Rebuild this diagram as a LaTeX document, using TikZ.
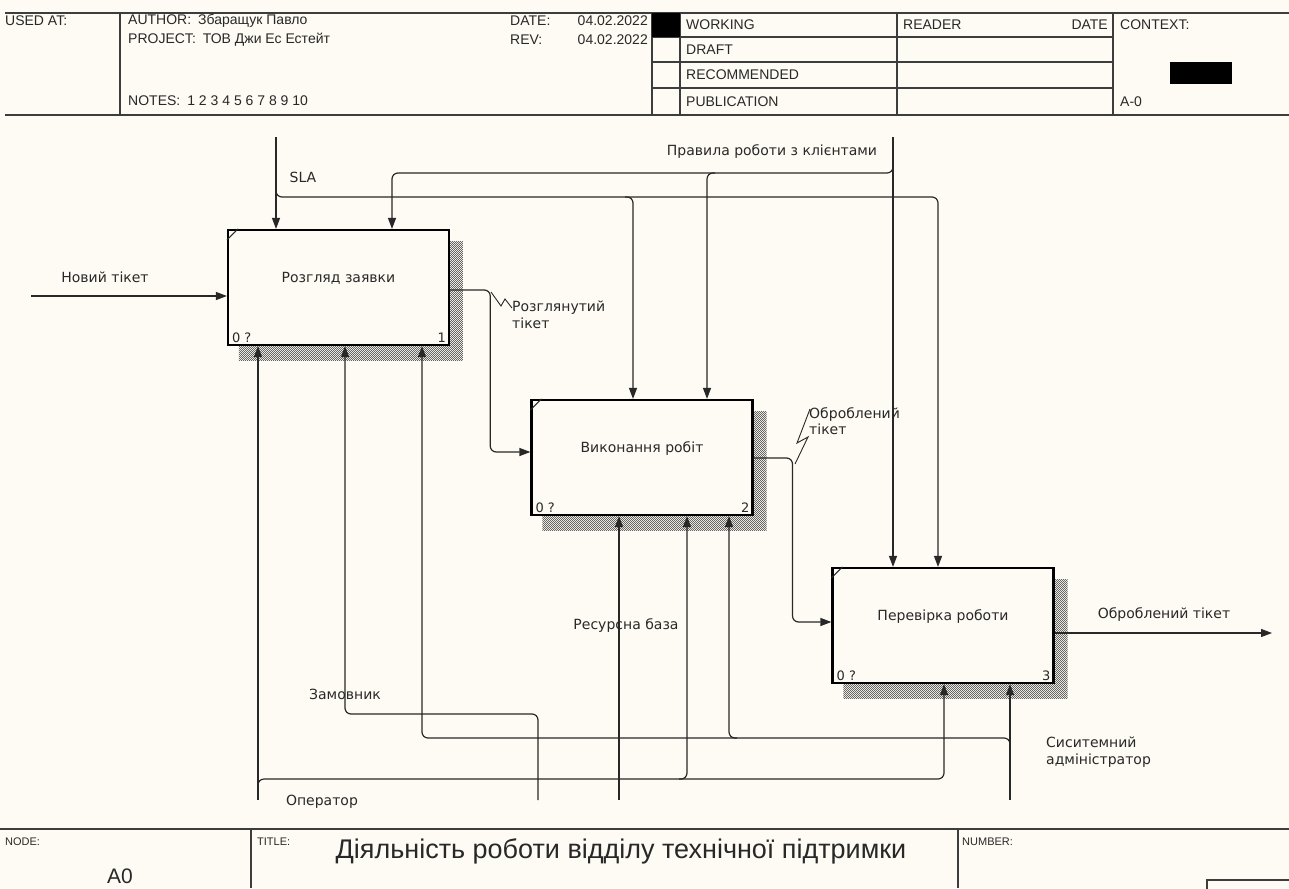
\documentclass[tikz,border=0pt]{standalone}
\usepackage{fontspec}
\setmainfont{Liberation Sans}
\newfontfamily\idef{DejaVu Sans}
\usetikzlibrary{arrows.meta}
\usetikzlibrary{patterns}
\usetikzlibrary{calc}
\usetikzlibrary{backgrounds}

\definecolor{paper}{RGB}{253,251,243}
\definecolor{ink}{RGB}{40,40,40}

\pgfdeclarepatternformonly{finecheck}{\pgfpointorigin}{\pgfqpoint{2.4pt}{2.4pt}}{\pgfqpoint{2.4pt}{2.4pt}}{%
  \pgfpathrectangle{\pgfpointorigin}{\pgfqpoint{1.2pt}{1.2pt}}%
  \pgfpathrectangle{\pgfqpoint{1.2pt}{1.2pt}}{\pgfqpoint{1.2pt}{1.2pt}}%
  \pgfusepath{fill}}

\tikzset{
  func/.style={draw=black, line width=2.2pt, fill=paper, minimum width=221pt, minimum height=115pt, inner sep=0pt},
  arr/.style={draw=ink, line width=1.2pt, rounded corners=6pt, -{Triangle[length=11pt,width=8pt]}},
  squig/.style={draw=ink, line width=0.9pt},
  lbl/.style={font=\idef\fontsize{14}{16.5}\selectfont, text=ink, inner sep=0pt, align=left},
  num/.style={font=\idef\fontsize{13}{15}\selectfont, text=ink, inner sep=0pt},
  hdr/.style={font=\fontsize{14}{16}\selectfont, text=ink, inner sep=0pt, anchor=west},
  tiny/.style={font=\fontsize{11}{13}\selectfont, text=ink, inner sep=0pt, anchor=west},
  frameline/.style={draw=ink!90, line width=1.3pt},
  hatch/.style={pattern=finecheck, pattern color=black!60},
}

\begin{document}
\begin{tikzpicture}[x=1pt,y=-1pt]
\useasboundingbox (0,0) rectangle (1289,888);

% activity boxes
\node[func] (b1) at (338.5,287.5) {};
\node[func] (b2) at (642,457.5) {};
\node[func] (b3) at (943,625.5) {};
\node[lbl] (t1) at ([yshift=9pt]b1.center) {Розгляд заявки};
\node[lbl] (t2) at ([yshift=9pt]b2.center) {Виконання робіт};
\node[lbl] (t3) at ([yshift=9pt]b3.center) {Перевірка роботи};
\foreach \b/\n in {b1/1, b2/2, b3/3} {
  \node[num, anchor=south west] (\b z) at ([shift={(5pt,3pt)}]\b.south west) {0 ?};
  \node[num, anchor=south east] (\b n) at ([shift={(-4pt,3pt)}]\b.south east) {\n};
  \draw[ink, line width=1pt] ([yshift=-11pt]\b.north west) -- ([xshift=11pt]\b.north west);
}
\begin{scope}[on background layer]
  \fill[paper] (0,0) rectangle (1289,888);
  \foreach \b in {b1,b2,b3}
    \fill[hatch] ([shift={(12pt,-13pt)}]\b.north west) rectangle ([shift={(13pt,-14pt)}]\b.south east);
\end{scope}

% inputs and outputs
\coordinate (newIn) at (31,296);
\draw[arr] (newIn) -- (newIn -| b1.west);
\draw[arr] ([yshift=-2.5pt]b1.east) -| ($(b1.east)!.5!(b2.west)$) |- ([yshift=5.5pt]b2.west);
\draw[arr] ([yshift=-0.5pt]b2.east) -| ($(b2.east)!.5!(b3.west)$) |- ([yshift=3.5pt]b3.west);
\coordinate (outEnd) at (1272,633);
\draw[arr] (b3.east |- outEnd) -- (outEnd);

% controls
\coordinate (slaIn) at (276,137);
\draw[arr] (slaIn) -- (slaIn |- b1.north);
\coordinate (c3b) at (938,197);
\draw[arr] (276,189) |- (c3b) -- (c3b |- b3.north);
\coordinate (c2a) at (633,197);
\draw[arr] ([xshift=-8pt]c2a) -- (c2a) -- (c2a |- b2.north);
\coordinate (rulesIn) at (893,137);
\draw[arr] (rulesIn) -- (rulesIn |- b3.north);
\coordinate (c1b) at (392,173);
\draw[arr] (893,165) |- (c1b) -- (c1b |- b1.north);
\coordinate (c2b) at (707,173);
\draw[arr] ([xshift=8pt]c2b) -- (c2b) -- (c2b |- b2.north);

% mechanisms
\coordinate (operIn) at (258,800);
\draw[arr] (operIn) -- (operIn |- b1.south);
\coordinate (m3a) at (944,779);
\draw[arr] (258,787) |- (m3a) -- (m3a |- b3.south);
\coordinate (m2a) at (687,779);
\draw[arr] ([xshift=-8pt]m2a) -- (m2a) -- (m2a |- b2.south);
\coordinate (custIn) at (538,800);
\coordinate (m1b) at (345,714);
\draw[arr] (custIn) |- (m1b) -- (m1b |- b1.south);
\coordinate (resIn) at (619,800);
\draw[arr] (resIn) -- (resIn |- b2.south);
\coordinate (adminIn) at (1010,800);
\draw[arr] (adminIn) -- (adminIn |- b3.south);
\coordinate (m1c) at (422,738);
\draw[arr] (1010,746) |- (m1c) -- (m1c |- b1.south);
\coordinate (m2c) at (729,738);
\draw[arr] ([xshift=8pt]m2c) -- (m2c) -- (m2c |- b2.south);

% arrow labels
\draw[squig] (491,292) -- (501,306) -- (505,299) -- (512,308);
\draw[squig] (795,464) -- (808,437) -- (797,443) -- (810,409);
\node[lbl] (lNew) at (105,277) {Новий тікет};
\node[lbl] (lSla) at (303,177) {SLA};
\node[lbl] (lRules) at (772,152) {Правила роботи з клієнтами};
\node[lbl, anchor=north west] (lRev) at (512,301) {Розглянутий\\тікет};
\node[lbl, anchor=north west] (lDone) at (809,407) {Оброблений\\тікет};
\node[lbl] (lOut) at (1164,615) {Оброблений тікет};
\node[lbl] (lRes) at (626,626) {Ресурсна база};
\node[lbl] (lCust) at (345,694) {Замовник};
\node[lbl] (lOper) at (322,802) {Оператор};
\node[lbl, anchor=north west] (lAdmin) at (1046,737) {Сиситемний\\адміністратор};

% header frame
\draw[frameline] (5,13) -- (1289,13) (5,115) -- (1289,115);
\foreach \x in {120,652,680,897,1113}
  \draw[frameline] (\x,13) -- (\x,115);
\foreach \y in {37,62,88}
  \draw[frameline] (652,\y) -- (1113,\y);
\fill[black] (652,13) rectangle (680,37);
\fill[black] (1170,62) rectangle (1232,84);
\node[hdr] (usedAt) at (5,21) {USED AT:};
\node[hdr] (author) at (128,21) {AUTHOR:\enspace Збаращук Павло};
\node[hdr] (project) at (128,40) {PROJECT:\enspace ТОВ Джи Ес Естейт};
\node[hdr] (notes) at (128,101) {NOTES:\enspace 1 2 3 4 5 6 7 8 9 10};
\node[hdr] (date) at (510,21) {DATE:};
\node[hdr, anchor=east] (dateV) at (648,21) {04.02.2022};
\node[hdr] (rev) at (510,40) {REV:};
\node[hdr, anchor=east] (revV) at (648,40) {04.02.2022};
\node[hdr] (working) at (686,25) {WORKING};
\node[hdr] (draft) at (686,50) {DRAFT};
\node[hdr] (recomm) at (686,75) {RECOMMENDED};
\node[hdr] (public) at (686,102) {PUBLICATION};
\node[hdr] (reader) at (903,25) {READER};
\node[hdr, anchor=east] (rdate) at (1108,25) {DATE};
\node[hdr] (context) at (1120,25) {CONTEXT:};
\node[hdr] (ctxNode) at (1120,102) {A-0};

% footer frame
\draw[frameline] (0,829) -- (1289,829);
\draw[frameline] (251,829) -- (251,888) (958,829) -- (958,888);
\draw[frameline] (1207,880) rectangle (1300,900);
\node[tiny] (nodeLbl) at (5,842) {NODE:};
\node[tiny] (titleLbl) at (257,842) {TITLE:};
\node[tiny] (numberLbl) at (962,842) {NUMBER:};
\node[font=\fontsize{21}{24}\selectfont, text=ink, inner sep=0pt] (nodeNo) at (120,876) {A0};
\node[font=\fontsize{27}{30}\selectfont, text=ink, inner sep=0pt, anchor=base] (title) at (621,858) {Діяльність роботи відділу технічної підтримки};
\end{tikzpicture}
\end{document}
